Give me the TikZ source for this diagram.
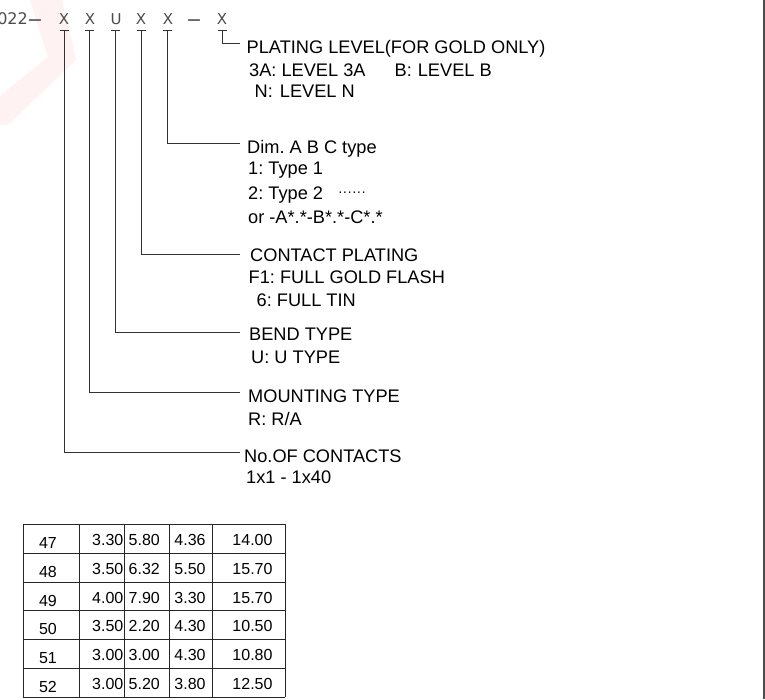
\documentclass[tikz,border=0pt]{standalone}
\usepackage{fontspec}
\setmainfont{Liberation Sans}
\newfontfamily\hdrfont{DejaVu Sans}
\frenchspacing
\begin{document}
\begin{tikzpicture}[x=1pt,y=-1pt,
  hdr/.style={inner sep=0pt,anchor=base,text=black!70,font=\hdrfont\fontsize{15}{17}\selectfont},
  hdash/.style={inner sep=0pt,anchor=base,text=black!70,font=\hdrfont\fontsize{19}{21}\selectfont},
  lab/.style={inner sep=0pt,anchor=base west,font=\fontsize{18.2}{21}\selectfont},
  cell/.style={inner sep=0pt,anchor=base,font=\fontsize{16}{18}\selectfont},
  lead/.style={draw=black!80,line width=0.9pt},
  capline/.style={draw=black!80,line width=0.9pt},
  tgrid/.style={draw=black!85,line width=0.9pt}]
\useasboundingbox (0,0) rectangle (765,699);
% watermark
\fill[red,opacity=0.05] (30,0) -- (62,0) -- (76,60) -- (8,125) -- (0,125) -- (0,96) -- (48,57) -- cycle;
% right border line
\draw[black!70,line width=1.2pt] (764,0) -- (764,699);
% header
\node[hdr,anchor=base east,font=\hdrfont\fontsize{16}{18}\selectfont] (pre) at (28,24) {022};
\node[hdash] (pm) at (35,26) {−};
\node[hdr] (h1) at (64,24) {X};
\node[hdr] (h2) at (90,24) {X};
\node[hdr] (h3) at (116,24) {U};
\node[hdr] (h4) at (141,24) {X};
\node[hdr] (h5) at (168,24) {X};
\node[hdash] (hd) at (194,26) {−};
\node[hdr] (h6) at (222,24) {X};
% caps
\foreach \n/\xx in {1/64,2/89,3/115.5,4/141,5/167.5,6/222.5}{
  \coordinate (t\n) at (\xx,30);
  \draw[capline] (\xx-4.5,30) -- (\xx+4.5,30);
}
% labels
\node[lab] (l6a) at (246.5,53) {PLATING LEVEL(FOR GOLD ONLY)};
\node[lab] (l6b) at (249,76) {3A: LEVEL 3A\hspace{1.6em}B:\hspace{6pt}LEVEL B};
\node[lab] (l6c) at (254.5,97) {N:\hspace{7pt}LEVEL N};
\node[lab] (l5a) at (247,153) {Dim. A B C type};
\node[lab] (l5b) at (248,174) {1: Type 1};
\node[lab] (l5c) at (248,199) {2: Type 2\hspace{15pt}\raisebox{3pt}{\fontsize{14}{16}\selectfont ······}};
\node[lab] (l5d) at (248,223) {or -A*.*-B*.*-C*.*};
\node[lab] (l4a) at (250,261) {CONTACT PLATING};
\node[lab] (l4b) at (248.5,283) {F1: FULL GOLD FLASH};
\node[lab] (l4c) at (256.5,306) {6: FULL TIN};
\node[lab] (l3a) at (249,340) {BEND TYPE};
\node[lab] (l3b) at (251,363) {U: U TYPE};
\node[lab] (l2a) at (248,402) {MOUNTING TYPE};
\node[lab] (l2b) at (248,425) {R: R/A};
\node[lab] (l1a) at (244,462) {No.OF CONTACTS};
\node[lab] (l1b) at (246,483) {1x1 - 1x40};
% connector ends
\coordinate (e6) at (240,43);
\coordinate (e5) at (240,143);
\coordinate (e4) at (240,254);
\coordinate (e3) at (240,332);
\coordinate (e2) at (240,392);
\coordinate (e1) at (240,452);
\draw[lead] (t6) -- (t6 |- e6) -- (e6);
\draw[lead] (t5) -- (t5 |- e5) -- (e5);
\draw[lead] (t4) -- (t4 |- e4) -- (e4);
\draw[lead] (t3) -- (t3 |- e3) -- (e3);
\draw[lead] (t2) -- (t2 |- e2) -- (e2);
\draw[lead] (t1) -- (t1 |- e1) -- (e1);
% table
\foreach \xx in {23,79,124,169,212,285} \draw[tgrid] (\xx,524) -- (\xx,697);
\foreach \yy in {524,553,582,610,639,668,697} \draw[tgrid] (23,\yy) -- (285,\yy);
\foreach \rr/\yy/\va/\vb/\vc/\vd/\ve in {
  1/524/47/3.30/5.80/4.36/14.00,
  2/553/48/3.50/6.32/5.50/15.70,
  3/582/49/4.00/7.90/3.30/15.70,
  4/610/50/3.50/2.20/4.30/10.50,
  5/639/51/3.00/3.00/4.30/10.80,
  6/668/52/3.00/5.20/3.80/12.50}{
  \node[cell] (c\rr a) at (48,\yy+24) {\va};
  \node[cell,anchor=base east] (c\rr b) at (123.5,\yy+21) {\vb};
  \node[cell,anchor=base west] (c\rr c) at (128.5,\yy+21) {\vc};
  \node[cell] (c\rr d) at (190,\yy+21) {\vd};
  \node[cell] (c\rr e) at (252.5,\yy+21) {\ve};
}
\end{tikzpicture}
\end{document}
